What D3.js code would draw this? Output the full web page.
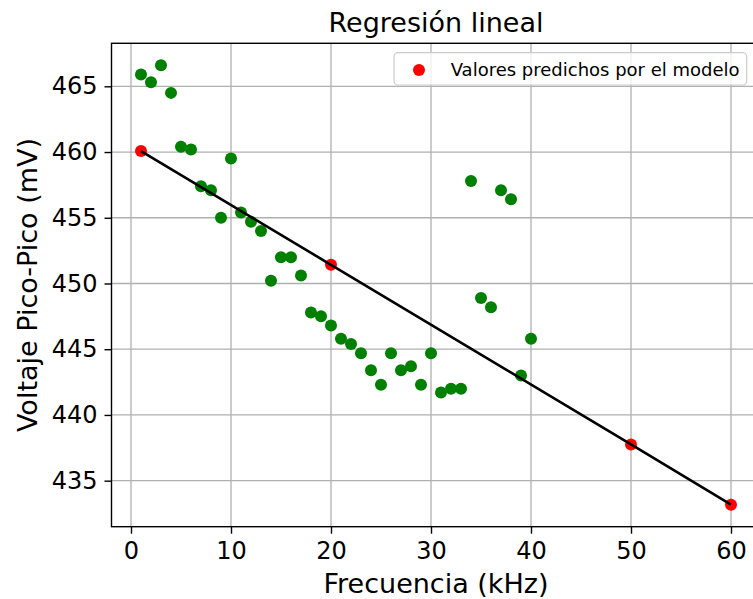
<!DOCTYPE html>
<html>
<head>
<meta charset="utf-8">
<script src="https://cdn.jsdelivr.net/npm/d3@7"></script>
<style>
  html, body { margin: 0; padding: 0; background: #ffffff; }
  svg { display: block; font-family: "DejaVu Sans", sans-serif; }
</style>
</head>
<body>
<svg id="chart" width="753" height="599"></svg>
<script>
// ---- data ----
const freq = [1,2,3,4,5,6,7,8,9,10,11,12,13,14,15,16,17,18,19,20,
              21,22,23,24,25,26,27,28,29,30,31,32,33,34,35,36,37,38,39,40];
const voltage = [465.9,465.3,466.6,464.5,460.4,460.2,457.4,457.1,455.0,459.5,
                 455.4,454.7,454.0,450.2,452.0,452.0,450.6,447.8,447.5,446.8,
                 445.8,445.4,444.7,443.4,442.3,444.7,443.4,443.7,442.3,444.7,
                 441.7,442.0,442.0,457.8,448.9,448.2,457.1,456.4,443.0,445.8];
const predFreq = [1, 20, 50, 60];
const predVoltage = [460.07, 451.42, 437.76, 433.17];
const xTicks = [0, 10, 20, 30, 40, 50, 60];
const yTicks = [435, 440, 445, 450, 455, 460, 465];
const titleText = "Regresión lineal";
const xLabelText = "Frecuencia (kHz)";
const yLabelText = "Voltaje Pico-Pico (mV)";
const legendText = "Valores predichos por el modelo";

// ---- layout ----
const svg = d3.select("#chart");
const pL = 111.5, pR = 760.5, pT = 43.3, pB = 526.7;

const allX = freq.concat(predFreq), allY = voltage.concat(predVoltage);
const xMin = d3.min(allX), xMax = d3.max(allX);
const yMin = d3.min(allY), yMax = d3.max(allY);
const xPad = (xMax - xMin) * 0.05, yPad = (yMax - yMin) * 0.05;

const x = d3.scaleLinear().domain([xMin - xPad, xMax + xPad]).range([pL, pR]);
const y = d3.scaleLinear().domain([yMin - yPad, yMax + yPad]).range([pB, pT]);

const tickFont = 24, labelFont = 27;

// grid
const grid = svg.append("g");
grid.selectAll("line.gx").data(xTicks).enter().append("line")
  .attr("x1", d => x(d)).attr("x2", d => x(d))
  .attr("y1", pT).attr("y2", pB)
  .attr("stroke", "#b0b0b0").attr("stroke-width", 1.3);
grid.selectAll("line.gy").data(yTicks).enter().append("line")
  .attr("x1", pL).attr("x2", pR)
  .attr("y1", d => y(d)).attr("y2", d => y(d))
  .attr("stroke", "#b0b0b0").attr("stroke-width", 1.3);

// green observations
svg.append("g").selectAll("circle").data(freq).enter().append("circle")
  .attr("cx", (d) => x(d)).attr("cy", (d, i) => y(voltage[i]))
  .attr("r", 6).attr("fill", "green");

// red predicted
svg.append("g").selectAll("circle").data(predFreq).enter().append("circle")
  .attr("cx", d => x(d)).attr("cy", (d, i) => y(predVoltage[i]))
  .attr("r", 6).attr("fill", "red");

// regression line
const line = d3.line().x(d => x(d[0])).y(d => y(d[1]));
svg.append("path")
  .datum(predFreq.map((f, i) => [f, predVoltage[i]]))
  .attr("d", line).attr("fill", "none")
  .attr("stroke", "black").attr("stroke-width", 2.6);

// axes
const xAxis = d3.axisBottom(x).tickValues(xTicks).tickSize(7).tickPadding(8).tickFormat(d3.format("d"));
const yAxis = d3.axisLeft(y).tickValues(yTicks).tickSize(7).tickPadding(7).tickFormat(d3.format("d"));

const gx = svg.append("g").attr("transform", `translate(0,${pB})`).call(xAxis);
const gy = svg.append("g").attr("transform", `translate(${pL},0)`).call(yAxis);
[gx, gy].forEach(g => {
  g.select(".domain").remove();
  g.selectAll(".tick line").attr("stroke", "#000").attr("stroke-width", 1.4);
  g.selectAll(".tick text").attr("fill", "#000")
    .style("font-family", "DejaVu Sans").style("font-size", tickFont + "px");
});

// spines
svg.append("rect").attr("x", pL).attr("y", pT)
  .attr("width", pR - pL).attr("height", pB - pT)
  .attr("fill", "none").attr("stroke", "#000").attr("stroke-width", 1.4);

// title and labels
svg.append("text").attr("x", (pL + pR) / 2).attr("y", 32.3)
  .attr("text-anchor", "middle").style("font-size", labelFont + "px").attr("fill", "#000")
  .text(titleText);
svg.append("text").attr("x", (pL + pR) / 2).attr("y", 592.5)
  .attr("text-anchor", "middle").style("font-size", labelFont + "px").attr("fill", "#000")
  .text(xLabelText);
svg.append("text")
  .attr("transform", `translate(36.5,${(pT + pB) / 2}) rotate(-90)`)
  .attr("text-anchor", "middle").style("font-size", labelFont + "px").attr("fill", "#000")
  .text(yLabelText);

// legend
const lg = svg.append("g");
lg.append("rect").attr("x", 394).attr("y", 52.7).attr("width", 352.7).attr("height", 32.3)
  .attr("rx", 4).attr("ry", 4)
  .attr("fill", "#ffffff").attr("fill-opacity", 0.8)
  .attr("stroke", "#cccccc").attr("stroke-width", 1.2);
lg.append("circle").attr("cx", 419).attr("cy", 70).attr("r", 6).attr("fill", "red");
lg.append("text").attr("x", 450.7).attr("y", 70).attr("dy", "0.35em")
  .style("font-size", "18px").attr("fill", "#000").text(legendText);
</script>
</body>
</html>
